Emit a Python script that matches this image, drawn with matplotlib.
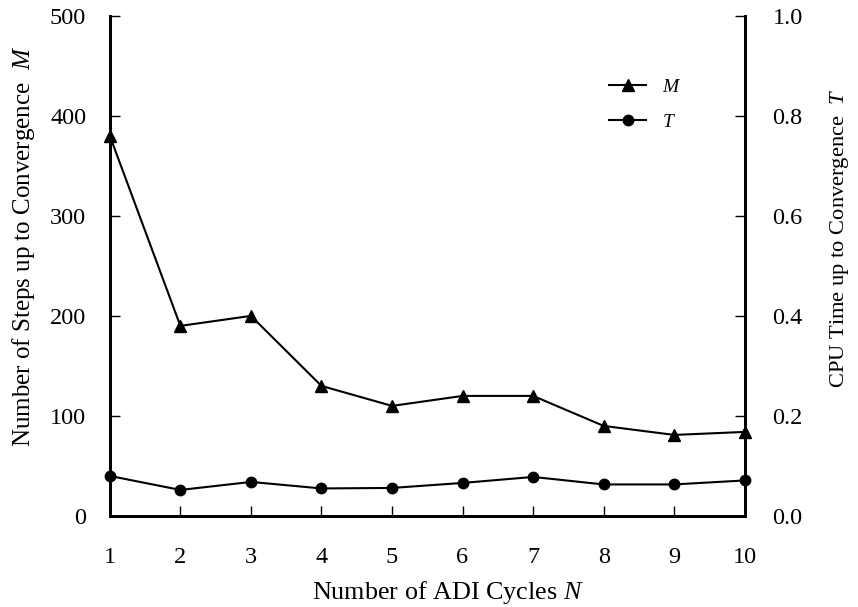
import numpy as np
import matplotlib.pyplot as plt

plt.rcParams['font.family'] = ['Liberation Serif', 'DejaVu Serif']
plt.rcParams['mathtext.fontset'] = 'custom'
plt.rcParams['mathtext.it'] = 'Liberation Serif:italic'
plt.rcParams['mathtext.rm'] = 'Liberation Serif'

cycles = [1, 2, 3, 4, 5, 6, 7, 8, 9, 10]
steps_M = [380, 190, 200, 130, 110, 120, 120, 90, 81, 84]
cpu_T = [0.080, 0.052, 0.068, 0.055, 0.056, 0.066, 0.078, 0.063, 0.063, 0.071]

fig = plt.figure(figsize=(8.58, 6.07), dpi=100)
ax = fig.add_axes([0.128, 0.150, 0.740, 0.824])
ax2 = ax.twinx()

l1, = ax.plot(cycles, steps_M, color='black', lw=1.5, marker='^', ms=8.5,
              label='$M$', clip_on=False, zorder=3)
l2, = ax2.plot(cycles, cpu_T, color='black', lw=1.5, marker='o', ms=7.5,
               label='$T$', clip_on=False, zorder=3)

ax.set_xlim(1, 10)
ax.set_ylim(0, 500)
ax2.set_ylim(0, 1.0)
ax.set_xticks(cycles)
ax.set_yticks([0, 100, 200, 300, 400, 500])
ax2.set_yticks([0.0, 0.2, 0.4, 0.6, 0.8, 1.0])
ax2.set_yticklabels(['0.0', '0.2', '0.4', '0.6', '0.8', '1.0'])

for a in (ax, ax2):
    a.spines['top'].set_visible(False)
    for s in a.spines.values():
        s.set_linewidth(2)
    a.tick_params(direction='in', length=7, width=1, labelsize=17.5)
ax.tick_params(axis='x', pad=22)
ax.tick_params(axis='y', pad=17)
ax2.tick_params(axis='y', pad=20)

ax.set_xlabel('Number of ADI Cycles $N$', fontsize=18.8)
ax.set_ylabel('Number of Steps up to Convergence  $M$', fontsize=18)
ax2.set_ylabel('CPU Time up to Convergence  $T$', fontsize=16.2)
# labels sit a bit off-centre in the original
ax.xaxis.set_label_coords(0.532, -0.126)
ax.yaxis.set_label_coords(-0.115, 0.538)
ax2.yaxis.set_label_coords(1.131, 0.556)

ax.legend([l1, l2], ['$M$', '$T$'], loc='upper left', bbox_to_anchor=(0.759, 0.91),
          frameon=False, fontsize=14, handlelength=1.9, labelspacing=0.9)

fig.savefig('out.png', dpi=100)
